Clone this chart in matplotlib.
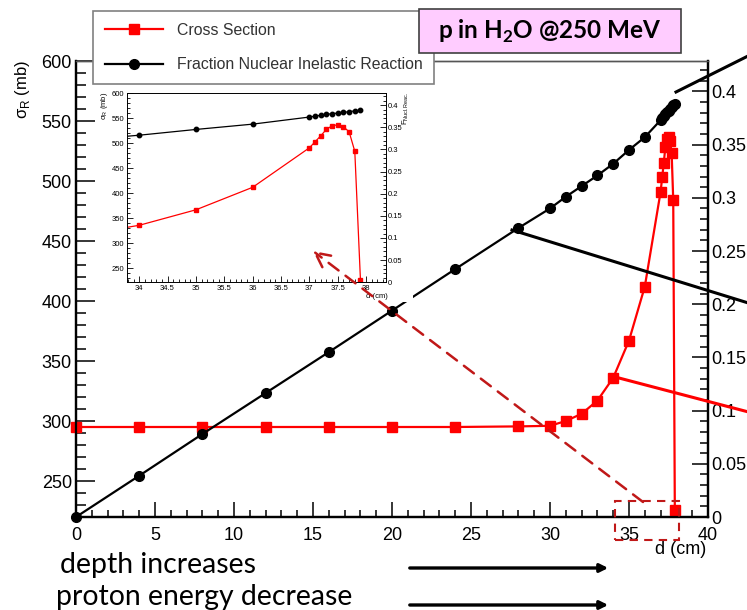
import matplotlib
matplotlib.use("Agg")
import matplotlib.pyplot as plt
from matplotlib.lines import Line2D
from matplotlib.patches import Rectangle, FancyArrowPatch
from matplotlib.ticker import MultipleLocator

plt.rcParams["font.family"] = ["Liberation Sans", "DejaVu Sans"]

# depth in water (cm)
depth = [0, 4, 8, 12, 16, 20, 24, 28, 30, 31, 32, 33, 34, 35, 36,
         37, 37.1, 37.2, 37.3, 37.4, 37.5, 37.6, 37.7, 37.8, 37.9]
# reaction cross section sigma_R (mb)
cross_section = [295, 295, 295, 295, 295, 295, 295, 295.5, 296, 300, 306, 317, 336, 367, 412,
                 491, 503, 515, 528, 535, 537, 533, 523, 484, 226]
# fraction of protons that underwent a nuclear inelastic reaction
inelastic_fraction = [0.0, 0.0388, 0.078, 0.1165, 0.155, 0.194, 0.233, 0.2716, 0.290, 0.301,
                      0.311, 0.321, 0.332, 0.345, 0.357, 0.373, 0.375, 0.377, 0.379, 0.3805,
                      0.382, 0.3835, 0.385, 0.387, 0.388]

legend_labels = ["Cross Section", "Fraction Nuclear Inelastic Reaction"]
title_text = r"p in H$_\mathregular{2}$O @250 MeV"
notes = ["depth increases", "proton energy decrease"]

W, H = 747, 610
RED = "#ff0000"
DARKRED = "#c01818"

fig = plt.figure(figsize=(W / 100, H / 100), dpi=100)


def fx(px):
    return px / W


def fy(py):
    return 1 - py / H


def style_axis(a, which, major, minor, labelsize, pad, width=1.1):
    a.tick_params(axis=which, which="major", direction="in", length=major, width=width,
                  labelsize=labelsize, pad=pad)
    a.tick_params(axis=which, which="minor", direction="in", length=minor, width=width)


# ---------------- main plot ----------------
ax = fig.add_axes([fx(76), fy(517), fx(708) - fx(76), fy(61) - fy(517)])
ax2 = ax.twinx()

ax.set_xlim(0, 40)
ax.set_ylim(220, 600)
ax2.set_ylim(0, 0.4286)

line_cs, = ax.plot(depth, cross_section, color=RED, lw=1.6, marker="s", ms=7,
                   clip_on=False, zorder=3)
line_fr, = ax2.plot(depth, inelastic_fraction, color="black", lw=1.6, marker="o", ms=7,
                    clip_on=False, zorder=3)

ax.xaxis.set_major_locator(MultipleLocator(5))
ax.xaxis.set_minor_locator(MultipleLocator(1))
ax.yaxis.set_major_locator(MultipleLocator(50))
ax.yaxis.set_minor_locator(MultipleLocator(10))
ax2.yaxis.set_major_locator(MultipleLocator(0.05))
ax2.yaxis.set_minor_locator(MultipleLocator(0.01))
ax2.yaxis.set_major_formatter(plt.FuncFormatter(lambda v, p: f"{v:g}"))

style_axis(ax, "y", 13.5, 7, 13, 3)
style_axis(ax, "x", 10.5, 5, 13, 7)
style_axis(ax2, "y", 11.5, 5.8, 13, 2.5)
ax.tick_params(top=False, right=False)
ax2.tick_params(left=False)

for a in (ax, ax2):
    for s in ("left", "bottom", "right"):
        a.spines[s].set_linewidth(1.6)
    a.spines["top"].set_color("#555555")
    a.spines["top"].set_linewidth(1.0)

fig.text(fx(681), fy(549), "d (cm)", fontsize=13, ha="center", va="center")
fig.text(fx(22), fy(60), "σ$_\\mathregular{R}$ (mb)", fontsize=12, rotation=90,
         ha="center", va="top")

# ---------------- callout lines to the right ----------------
for (x0, y0, x1, y1, c) in [(676, 92, 760, 50, "black"),
                            (512, 230, 760, 306.6, "black"),
                            (619, 378, 760, 415, RED)]:
    fig.add_artist(Line2D([fx(x0), fx(x1)], [fy(y0), fy(y1)], transform=fig.transFigure,
                          color=c, lw=2.2, zorder=3))

# ---------------- zoomed inset ----------------
fig.add_artist(Rectangle((fx(98), fy(302)), fx(413) - fx(98), fy(83) - fy(302),
                         transform=fig.transFigure, facecolor="white", edgecolor="none",
                         zorder=4))
axi = fig.add_axes([fx(126.7), fy(282.3), fx(386) - fx(126.7), fy(93.3) - fy(282.3)],
                   zorder=5)
axi2 = axi.twinx()
axi.set_xlim(33.78, 38.35)
axi.set_ylim(222, 600)
axi2.set_ylim(0, 0.4266)
axi.plot(depth, cross_section, color=RED, lw=0.9, marker="s", ms=3.2)
axi2.plot(depth, inelastic_fraction, color="black", lw=0.9, marker="o", ms=3.2)
axi.xaxis.set_major_locator(MultipleLocator(0.5))
axi.xaxis.set_minor_locator(MultipleLocator(0.1))
axi.xaxis.set_major_formatter(plt.FuncFormatter(lambda v, p: f"{v:g}"))
axi.yaxis.set_major_locator(MultipleLocator(50))
axi.yaxis.set_minor_locator(MultipleLocator(10))
axi2.yaxis.set_major_locator(MultipleLocator(0.05))
axi2.yaxis.set_minor_locator(MultipleLocator(0.01))
axi2.yaxis.set_major_formatter(plt.FuncFormatter(lambda v, p: f"{v:g}"))
style_axis(axi, "y", 4, 2, 5.5, 1.5, 0.6)
style_axis(axi, "x", 4, 2, 5.5, 2, 0.6)
style_axis(axi2, "y", 4, 2, 5.5, 1.5, 0.6)
axi.tick_params(top=False, right=False)
axi2.tick_params(left=False)
for a in (axi, axi2):
    for s in a.spines.values():
        s.set_linewidth(0.6)
fig.text(fx(104), fy(92), "σ$_\\mathregular{R}$ (mb)", fontsize=5.5, rotation=90,
         ha="center", va="top", zorder=6)
fig.text(fx(406), fy(92), "F$_\\mathregular{Nucl.Reac.}$", fontsize=5.5, rotation=90,
         ha="center", va="top", zorder=6)
fig.text(fx(377), fy(296), "d (cm)", fontsize=5.5, ha="center", va="center", zorder=6)

# ---------------- zoom marker: dashed box and arrow ----------------
fig.add_artist(Rectangle((fx(615), fy(540)), fx(679) - fx(615), fy(501) - fy(540),
                         transform=fig.transFigure, facecolor="none", edgecolor=DARKRED,
                         lw=1.5, ls=(0, (4, 3)), zorder=7))
fig.add_artist(FancyArrowPatch((fx(643), fy(502)), (fx(313), fy(251)),
                               transform=fig.transFigure, arrowstyle="->",
                               mutation_scale=26, color=DARKRED, lw=1.8,
                               shrinkA=0, shrinkB=0,
                               linestyle=(0, (5, 3.5)), zorder=7))

# ---------------- legend ----------------
leg = fig.legend([line_cs, line_fr], legend_labels, loc="upper left",
                 bbox_to_anchor=(fx(92.7), fy(10.7)), fontsize=11.4, frameon=True,
                 fancybox=False, edgecolor="#808080", framealpha=1, handlelength=3.7,
                 handletextpad=0.85, borderpad=0.75, labelspacing=1.25, borderaxespad=0)
leg.get_frame().set_linewidth(1.2)
leg.set_zorder(8)
for t in leg.get_texts():
    t.set_color("#333333")

# ---------------- title box ----------------
fig.add_artist(Rectangle((fx(419), fy(53.3)), fx(681) - fx(419), fy(9) - fy(53.3),
                         transform=fig.transFigure, facecolor="#ffccff", edgecolor="#404040",
                         lw=1.2, zorder=9))
fig.text(fx(550), fy(31), title_text, fontsize=17.5, fontweight="bold", family="Lato",
         ha="center", va="center", zorder=10)

# ---------------- bottom notes ----------------
fig.text(fx(60), fy(565), notes[0], fontsize=20.4, family="Lato", ha="left", va="center")
fig.text(fx(56), fy(597), notes[1], fontsize=20.4, family="Lato", ha="left", va="center")
for yy in (568, 605):
    fig.add_artist(FancyArrowPatch((fx(407), fy(yy)), (fx(611), fy(yy)),
                                   transform=fig.transFigure, arrowstyle="-|>",
                                   mutation_scale=12, color="black", lw=2.4))

fig.savefig("out.png", dpi=100)
